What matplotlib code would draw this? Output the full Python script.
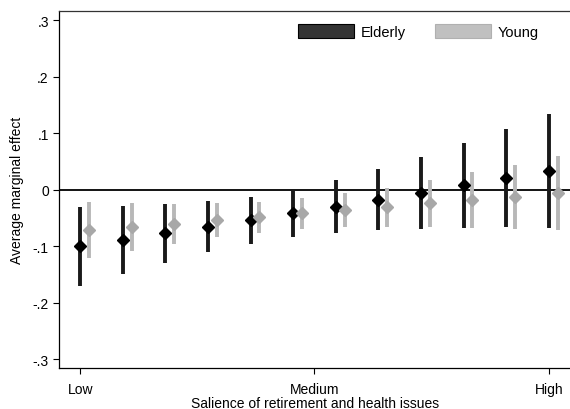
import numpy as np
import matplotlib
matplotlib.use("Agg")
import matplotlib.pyplot as plt
from matplotlib.patches import Patch

plt.rcParams['font.family'] = ['Liberation Sans', 'DejaVu Sans']

# salience steps, low -> high
steps = np.arange(12)
xtick_pos = [0, 5.5, 11]
xtick_labels = ["Low", "Medium", "High"]
ytick_pos = [-0.3, -0.2, -0.1, 0, 0.1, 0.2, 0.3]
ytick_labels = ["-.3", "-.2", "-.1", "0", ".1", ".2", ".3"]

eld_est = [-0.100, -0.089, -0.077, -0.066, -0.054, -0.041, -0.030, -0.017, -0.005, 0.008, 0.021, 0.034]
eld_lo = [-0.170, -0.149, -0.129, -0.110, -0.095, -0.083, -0.076, -0.071, -0.069, -0.067, -0.066, -0.067]
eld_hi = [-0.030, -0.028, -0.025, -0.020, -0.012, 0.000, 0.017, 0.037, 0.058, 0.083, 0.108, 0.134]

yng_est = [-0.071, -0.066, -0.060, -0.054, -0.048, -0.041, -0.036, -0.030, -0.024, -0.018, -0.012, -0.005]
yng_lo = [-0.120, -0.108, -0.095, -0.084, -0.076, -0.070, -0.066, -0.065, -0.066, -0.067, -0.069, -0.071]
yng_hi = [-0.022, -0.024, -0.025, -0.023, -0.021, -0.015, -0.006, 0.004, 0.017, 0.031, 0.045, 0.060]

fig = plt.figure(figsize=(5.7, 4.1), dpi=100)
ax = fig.add_axes([0.104, 0.099, 0.896, 0.872])

ax.axhline(0, color='black', lw=1.3, zorder=1)

xe = steps
xy = steps + 0.21
ax.vlines(xe, eld_lo, eld_hi, color='#1a1a1a', lw=2.8, zorder=2)
ax.plot(xe, eld_est, 'D', color='black', ms=6, zorder=3)
ax.vlines(xy, yng_lo, yng_hi, color='#b8b8b8', lw=2.8, zorder=2)
ax.plot(xy, yng_est, 'D', color='#a8a8a8', ms=6, zorder=3)

ax.set_xlim(-0.49, 11.5)
ax.set_ylim(-0.316, 0.317)
ax.set_xticks(xtick_pos)
ax.set_xticklabels(xtick_labels)
ax.set_yticks(ytick_pos)
ax.set_yticklabels(ytick_labels)
ax.tick_params(labelsize=10, length=4, width=0.8, colors='black')
ax.tick_params(axis='x', pad=6)
ax.spines['right'].set_visible(False)
for s in ['left', 'bottom', 'top']:
    ax.spines[s].set_linewidth(0.9)
ax.spines['top'].set_color('#333333')

ax.set_xlabel("Salience of retirement and health issues", fontsize=10, labelpad=0)
ax.set_ylabel("Average marginal effect", fontsize=10, labelpad=6)

handles = [Patch(facecolor='#333333', edgecolor='black', lw=0.8, label='Elderly'),
           Patch(facecolor='#c0c0c0', edgecolor='#b0b0b0', lw=0.8, label='Young')]
ax.legend(handles=handles, loc='upper right', bbox_to_anchor=(0.965, 1.0), ncol=2,
          frameon=False, fontsize=10.5, handlelength=3.8, handleheight=1.1,
          columnspacing=2.0, handletextpad=0.5)

fig.savefig("out.png", dpi=100)
